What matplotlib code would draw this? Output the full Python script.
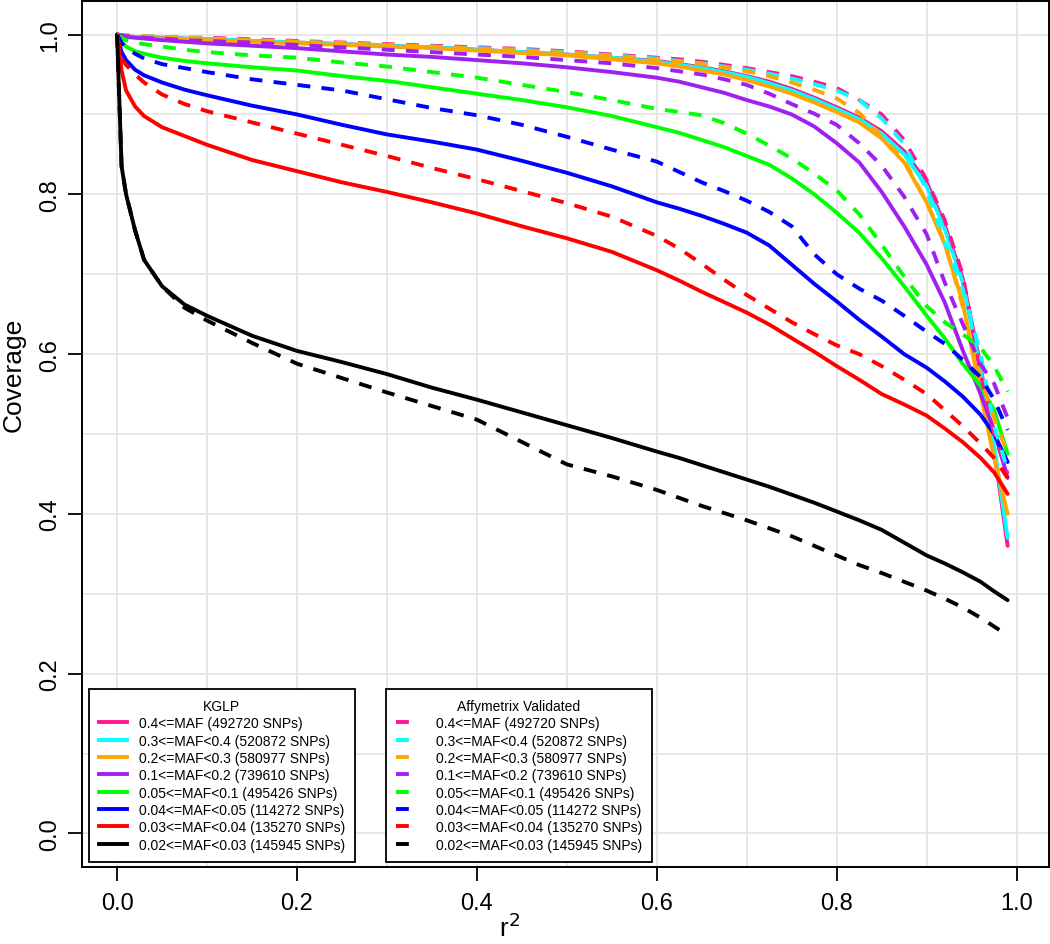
import matplotlib
matplotlib.use("Agg")
import matplotlib.pyplot as plt
from matplotlib.lines import Line2D

plt.rcParams['font.family'] = ['Liberation Sans', 'DejaVu Sans']

r2 = [0, 0.005, 0.01, 0.02, 0.03, 0.05, 0.075, 0.1, 0.15, 0.2, 0.25, 0.3, 0.35, 0.4, 0.45,
      0.5, 0.55, 0.6, 0.625, 0.65, 0.675, 0.7, 0.725, 0.75, 0.775, 0.8, 0.825, 0.85, 0.875, 0.9,
      0.92, 0.94, 0.96, 0.975, 0.99]

labels = ["0.4<=MAF (492720 SNPs)", "0.3<=MAF<0.4 (520872 SNPs)", "0.2<=MAF<0.3 (580977 SNPs)",
          "0.1<=MAF<0.2 (739610 SNPs)", "0.05<=MAF<0.1 (495426 SNPs)", "0.04<=MAF<0.05 (114272 SNPs)",
          "0.03<=MAF<0.04 (135270 SNPs)", "0.02<=MAF<0.03 (145945 SNPs)"]
colors = ["#FF1493", "#00FFFF", "#FFA500", "#A020F0", "#00FF00", "#0000FF", "#FF0000", "#000000"]

# KGLP (solid)
kglp_04 = [1.0, 0.999, 0.998, 0.997, 0.997, 0.996, 0.995, 0.994, 0.992, 0.99, 0.988, 0.986, 0.984, 0.981, 0.978,
           0.975, 0.971, 0.967, 0.963, 0.959, 0.954, 0.948, 0.941, 0.932, 0.921, 0.909, 0.896, 0.879, 0.854, 0.815,
           0.762, 0.695, 0.585, 0.48, 0.36]
kglp_03 = [1.0, 0.999, 0.998, 0.997, 0.996, 0.995, 0.995, 0.994, 0.992, 0.99, 0.988, 0.986, 0.984, 0.981, 0.978,
           0.975, 0.971, 0.966, 0.962, 0.958, 0.953, 0.947, 0.939, 0.93, 0.919, 0.907, 0.894, 0.876, 0.85, 0.81,
           0.757, 0.69, 0.58, 0.485, 0.37]
kglp_02 = [1.0, 0.999, 0.998, 0.997, 0.996, 0.995, 0.994, 0.993, 0.991, 0.989, 0.987, 0.985, 0.983, 0.98, 0.977,
           0.974, 0.969, 0.964, 0.96, 0.955, 0.95, 0.943, 0.935, 0.926, 0.915, 0.903, 0.89, 0.87, 0.84, 0.79,
           0.738, 0.665, 0.55, 0.47, 0.40]
kglp_01 = [1.0, 0.998, 0.997, 0.996, 0.995, 0.993, 0.991, 0.989, 0.986, 0.983, 0.979, 0.975, 0.972, 0.968, 0.964,
           0.959, 0.953, 0.946, 0.941, 0.934, 0.927, 0.918, 0.91, 0.9, 0.885, 0.864, 0.84, 0.803, 0.76, 0.712,
           0.665, 0.605, 0.55, 0.505, 0.445]
kglp_005 = [1.0, 0.99, 0.985, 0.979, 0.976, 0.971, 0.967, 0.964, 0.959, 0.955, 0.948, 0.942, 0.934, 0.926, 0.918,
            0.909, 0.898, 0.884, 0.877, 0.868, 0.859, 0.848, 0.837, 0.82, 0.8, 0.777, 0.752, 0.72, 0.685, 0.648,
            0.62, 0.588, 0.56, 0.53, 0.475]
kglp_004 = [1.0, 0.978, 0.968, 0.956, 0.949, 0.94, 0.931, 0.924, 0.911, 0.9, 0.887, 0.875, 0.866, 0.856, 0.842,
            0.827, 0.81, 0.79, 0.782, 0.773, 0.763, 0.752, 0.736, 0.712, 0.688, 0.666, 0.643, 0.622, 0.60, 0.583,
            0.566, 0.547, 0.524, 0.50, 0.465]
kglp_003 = [1.0, 0.955, 0.93, 0.91, 0.898, 0.884, 0.873, 0.862, 0.843, 0.829, 0.815, 0.803, 0.79, 0.776, 0.76,
            0.745, 0.728, 0.705, 0.692, 0.678, 0.665, 0.652, 0.637, 0.62, 0.603, 0.585, 0.568, 0.55, 0.537, 0.523,
            0.507, 0.49, 0.47, 0.452, 0.425]
kglp_002 = [1.0, 0.835, 0.80, 0.755, 0.718, 0.685, 0.662, 0.648, 0.623, 0.604, 0.59, 0.575, 0.558, 0.543, 0.527,
            0.511, 0.495, 0.478, 0.47, 0.461, 0.452, 0.443, 0.434, 0.424, 0.414, 0.403, 0.392, 0.38, 0.364, 0.348,
            0.338, 0.327, 0.315, 0.303, 0.292]

# Affymetrix Validated (dashed)
affy_04 = [1.0, 0.999, 0.999, 0.998, 0.998, 0.997, 0.996, 0.996, 0.994, 0.992, 0.99, 0.988, 0.986, 0.984, 0.982,
           0.979, 0.975, 0.971, 0.969, 0.966, 0.962, 0.958, 0.953, 0.948, 0.941, 0.933, 0.918, 0.9, 0.868, 0.818,
           0.768, 0.70, 0.575, 0.50, 0.45]
affy_03 = [1.0, 0.999, 0.999, 0.998, 0.998, 0.997, 0.996, 0.995, 0.993, 0.991, 0.989, 0.987, 0.985, 0.983, 0.981,
           0.978, 0.974, 0.97, 0.967, 0.964, 0.96, 0.956, 0.951, 0.945, 0.938, 0.93, 0.918, 0.895, 0.863, 0.805,
           0.74, 0.682, 0.60, 0.51, 0.455]
affy_02 = [1.0, 0.999, 0.999, 0.998, 0.998, 0.997, 0.996, 0.995, 0.993, 0.991, 0.989, 0.987, 0.985, 0.982, 0.98,
           0.977, 0.973, 0.969, 0.966, 0.963, 0.959, 0.954, 0.948, 0.94, 0.931, 0.92, 0.902, 0.872, 0.843, 0.79,
           0.74, 0.66, 0.57, 0.52, 0.475]
affy_01 = [1.0, 0.999, 0.998, 0.997, 0.996, 0.995, 0.993, 0.992, 0.99, 0.987, 0.984, 0.981, 0.978, 0.975, 0.972,
           0.968, 0.964, 0.958, 0.954, 0.95, 0.944, 0.937, 0.926, 0.913, 0.901, 0.887, 0.864, 0.836, 0.797, 0.75,
           0.69, 0.638, 0.587, 0.563, 0.52]
affy_005 = [1.0, 0.996, 0.993, 0.99, 0.988, 0.985, 0.981, 0.978, 0.974, 0.971, 0.965, 0.96, 0.953, 0.946, 0.937,
            0.928, 0.918, 0.907, 0.903, 0.899, 0.889, 0.876, 0.861, 0.845, 0.826, 0.805, 0.775, 0.737, 0.697, 0.66,
            0.64, 0.625, 0.608, 0.585, 0.553]
affy_004 = [1.0, 0.99, 0.984, 0.976, 0.97, 0.963, 0.958, 0.953, 0.944, 0.937, 0.93, 0.919, 0.908, 0.899, 0.887,
            0.872, 0.856, 0.841, 0.828, 0.815, 0.804, 0.792, 0.778, 0.76, 0.725, 0.70, 0.682, 0.667, 0.648, 0.628,
            0.613, 0.593, 0.571, 0.543, 0.505]
affy_003 = [1.0, 0.97, 0.962, 0.95, 0.94, 0.925, 0.913, 0.904, 0.89, 0.876, 0.862, 0.848, 0.833, 0.819, 0.804,
            0.789, 0.772, 0.748, 0.732, 0.713, 0.693, 0.674, 0.657, 0.64, 0.625, 0.611, 0.6, 0.585, 0.568, 0.55,
            0.53, 0.51, 0.488, 0.47, 0.445]
affy_002 = [1.0, 0.835, 0.80, 0.755, 0.718, 0.685, 0.658, 0.642, 0.614, 0.588, 0.57, 0.552, 0.535, 0.518, 0.49,
            0.462, 0.447, 0.43, 0.42, 0.41, 0.401, 0.392, 0.382, 0.372, 0.36, 0.348, 0.336, 0.326, 0.315, 0.304,
            0.294, 0.283, 0.27, 0.259, 0.248]

kglp = [kglp_04, kglp_03, kglp_02, kglp_01, kglp_005, kglp_004, kglp_003, kglp_002]
affy = [affy_04, affy_03, affy_02, affy_01, affy_005, affy_004, affy_003, affy_002]

W, H = 1050, 945
fig = plt.figure(figsize=(W / 100, H / 100), dpi=100)
ax = fig.add_axes([82 / W, 1 - 868 / H, (1049 - 82) / W, (868 - 2) / H])

ax.set_xlim(-0.039, 1.036)
ax.set_ylim(-0.042, 1.042)

for v in [i / 10 for i in range(11)]:
    ax.axvline(v, color="#E6E6E6", lw=1.3, zorder=0)
    ax.axhline(v, color="#E6E6E6", lw=1.3, zorder=0)

LW = 2.8
for ys, c in zip(kglp, colors):
    ax.plot(r2, ys, color=c, lw=LW, solid_capstyle="round", solid_joinstyle="round", zorder=2)
for ys, c in zip(affy, colors):
    ax.plot(r2, ys, color=c, lw=LW, linestyle=(0, (3.3, 2.9)), dash_capstyle="butt", zorder=3)

ax.set_xticks([0, 0.2, 0.4, 0.6, 0.8, 1.0])
ax.set_xticklabels(["0.0", "0.2", "0.4", "0.6", "0.8", "1.0"])
ax.set_yticks([0, 0.2, 0.4, 0.6, 0.8, 1.0])
ax.set_yticklabels(["0.0", "0.2", "0.4", "0.6", "0.8", "1.0"], rotation=90, va="center")
ax.tick_params(axis="both", direction="out", length=10, width=1.3, labelsize=17)
ax.tick_params(axis="x", pad=8)
ax.tick_params(axis="y", pad=5)
for s in ax.spines.values():
    s.set_linewidth(1.4)

ax.set_xlabel("r$^2$", fontsize=19)
ax.set_ylabel("Coverage", fontsize=19)
ax.xaxis.set_label_coords((510 - 82) / 967, -0.052)
ax.yaxis.set_label_coords(-0.058, (868 - 375) / 866)

common = dict(fontsize=10.0, title_fontsize=10.0, frameon=True, fancybox=False, edgecolor="black",
              framealpha=1, labelspacing=0.24, handlelength=2.0, handletextpad=0.85, borderpad=0.72,
              borderaxespad=0)

h1 = [Line2D([], [], color=c, lw=LW) for c in colors]
leg1 = ax.legend(h1, labels, title="KGLP", loc="upper left",
                 bbox_to_anchor=(89 / W, 1 - 690 / H), bbox_transform=fig.transFigure, **common)
leg1.get_frame().set_linewidth(1.3)
ax.add_artist(leg1)

h2 = [Line2D([], [], color=c, lw=LW, linestyle=(0, (3.3, 40)), dash_capstyle="butt") for c in colors]
leg2 = ax.legend(h2, labels, title="Affymetrix Validated", loc="upper left",
                 bbox_to_anchor=(386 / W, 1 - 690 / H), bbox_transform=fig.transFigure, **common)
leg2.get_frame().set_linewidth(1.3)

fig.savefig("out.png", dpi=100)
